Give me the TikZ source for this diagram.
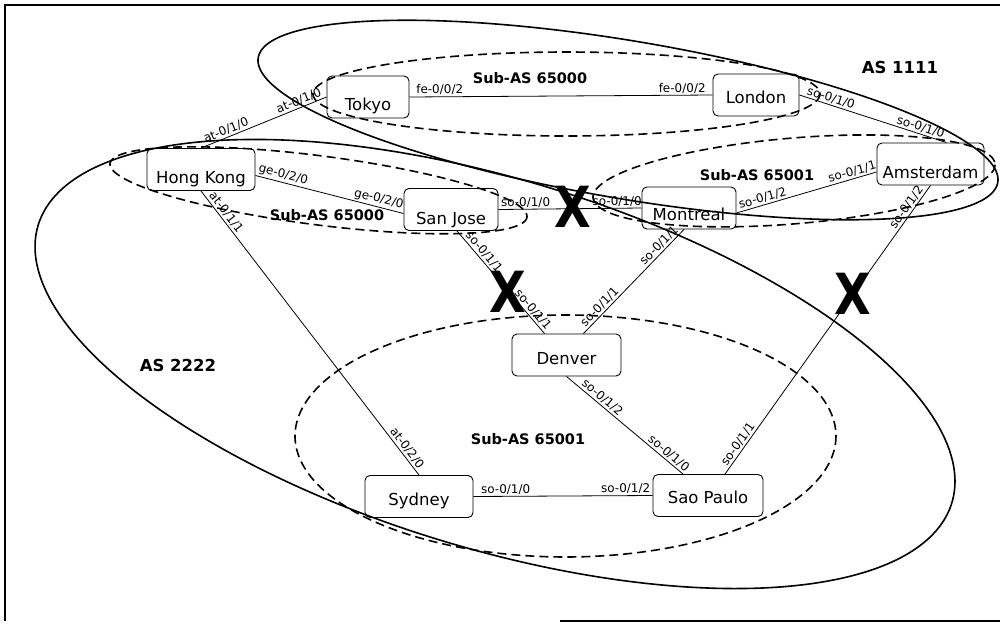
\documentclass[tikz,border=0pt]{standalone}
\usepackage{fontspec}
\setmainfont{DejaVu Sans}
\begin{document}
\begin{tikzpicture}[x=1pt,y=-1pt,
  router/.style={draw, rounded corners=5pt, line width=0.9pt, minimum height=42pt, inner sep=0pt},
  rname/.style={anchor=base, inner sep=0pt, font=\fontsize{16.5}{18}\selectfont},
  port/.style={font=\fontsize{12}{13}\selectfont, sloped, above, inner sep=1.5pt},
  link/.style={line width=0.8pt},
  asloop/.style={line width=1.6pt},
  subloop/.style={line width=1.6pt, dash pattern=on 9pt off 5pt},
  astitle/.style={font=\bfseries\fontsize{16.5}{18}\selectfont},
  subtitle/.style={font=\bfseries\fontsize{14.5}{16}\selectfont},
  cut/.style={font=\bfseries\fontsize{54}{54}\selectfont, inner sep=0pt},
]
\useasboundingbox (0,0) rectangle (1000,624);

% frame
\draw[line width=1.6pt] (1000,5) -- (5,5) -- (5,621);
\draw[line width=1.2pt] (560,621) -- (1000,621);

% autonomous systems (solid) and sub-AS confederation members (dashed)
\draw[asloop] plot[domain=0:360, samples=240] ({628+370*cos(\x)}, {120+59.6*cos(\x)+80*sin(\x)});
\draw[asloop] plot[domain=0:360, samples=240] ({495+460*cos(\x)}, {364+117.3*cos(\x)+191.5*sin(\x)});
\draw[subloop] plot[domain=0:360, samples=200] ({566.5+253.5*cos(\x)}, {94+42*sin(\x)});
\draw[subloop] plot[domain=0:360, samples=200] ({318.5+208.5*cos(\x)}, {190.3+26.1*cos(\x)+34.8*sin(\x)});
\draw[subloop] plot[domain=0:360, samples=200] ({794+201*cos(\x)}, {180.9-16.2*cos(\x)+43*sin(\x)});
\draw[subloop] plot[domain=0:360, samples=200] ({565.5+270.5*cos(\x)}, {436+121*sin(\x)});

% routers
\node[router, minimum width=82pt]  (tokyo)  at (368,97) {};
\node[router, minimum width=86pt]  (london) at (756,95) {};
\node[router, minimum width=108pt] (hk)     at (201,169.5) {};
\node[router, minimum width=94pt]  (sj)     at (451,209.5) {};
\node[router, minimum width=94pt]  (mont)   at (689,208) {};
\node[router, minimum width=107pt] (ams)    at (930.5,164) {};
\node[router, minimum width=109pt] (denver) at (566.5,355) {};
\node[router, minimum width=108pt] (sydney) at (419,496.5) {};
\node[router, minimum width=110pt] (sp)     at (708,495.5) {};

% router names, set on a baseline inside each box
\node[rname] (tokyo-name)  at ([yshift=-13pt]tokyo.center)    {Tokyo};
\node[rname] (london-name) at ([yshift=-8pt]london.center)    {London};
\node[rname] (hk-name)     at ([yshift=-14pt]hk.center)       {Hong Kong};
\node[rname] (sj-name)     at ([yshift=-15pt]sj.center)       {San Jose};
\node[rname] (mont-name)   at ([yshift=-12pt]mont.center)     {Montreal};
\node[rname] (ams-name)    at ([yshift=-14pt]ams.center)      {Amsterdam};
\node[rname] (denver-name) at ([yshift=-9pt]denver.center)    {Denver};
\node[rname] (sydney-name) at ([yshift=-8.5pt]sydney.center)  {Sydney};
\node[rname] (sp-name)     at ([yshift=-7.5pt]sp.center)      {Sao Paulo};

% links with interface names
\draw[link] (tokyo.east) -- node[port, pos=0.1]{fe-0/0/2} node[port, pos=0.9]{fe-0/0/2} (london.west);
\draw[link] (hk.north) -- node[port, pos=0.22]{at-0/1/0} node[port, pos=0.8]{at-0/1/0} (tokyo.west);
\draw[link] ([yshift=-6pt]hk.east) -- node[port, pos=0.175]{ge-0/2/0} node[port, pos=0.82]{ge-0/2/0} ([yshift=-4pt]sj.west);
\draw[link] (hk.south) -- node[port, pos=0.09]{at-0/1/1} node[port, pos=0.92]{at-0/2/0} (sydney.north);
\draw[link] (sj.east) -- node[port, pos=0.19]{so-0/1/0} node[port, pos=0.83]{so-0/1/0} (mont.west);
\draw[link] ([xshift=6pt]sj.south) -- node[port, pos=0.25]{so-0/1/1} node[port, pos=0.81]{so-0/1/1} ([xshift=-22pt]denver.north);
\draw[link] ([xshift=-5pt]mont.south) -- node[port, pos=0.2]{so-0/1/1} node[port, pos=0.79]{so-0/1/1} ([xshift=17pt]denver.north);
\draw[link] ([yshift=-5pt]mont.east) -- node[port, pos=0.2]{so-0/1/2} node[port, pos=0.84]{so-0/1/1} ([yshift=-8pt]ams.west);
\draw[link] (london.east) -- node[port, pos=0.2]{so-0/1/0} node[port, pos=0.81]{so-0/1/0} ([xshift=16pt]ams.north);
\draw[link] (ams.south) -- node[port, pos=0.09]{so-0/1/2} node[port, pos=0.91]{so-0/1/1} ([xshift=17pt]sp.north);
\draw[link] (denver.south) -- node[port, pos=0.27]{so-0/1/2} node[port, pos=0.84]{so-0/1/0} ([xshift=-25pt]sp.north);
\draw[link] (sydney.east) -- node[port, pos=0.18]{so-0/1/0} node[port, pos=0.85]{so-0/1/2} (sp.west);

% AS and sub-AS names
\node[astitle] (as1111) at (900,67) {AS 1111};
\node[astitle] (as2222) at (178,365) {AS 2222};
\node[subtitle] (sub65000a) at (530,78) {Sub-AS 65000};
\node[subtitle] (sub65000b) at (327,215) {Sub-AS 65000};
\node[subtitle] (sub65001a) at (757,175) {Sub-AS 65001};
\node[subtitle] (sub65001b) at (528,439) {Sub-AS 65001};

% failed links
\node[cut] (cut1) at (573,207) {\scalebox{0.88}[1.05]{X}};
\node[cut] (cut2) at (508,292) {\scalebox{0.88}[1.05]{X}};
\node[cut] (cut3) at (853,294) {\scalebox{0.88}[1.05]{X}};
\end{tikzpicture}
\end{document}
